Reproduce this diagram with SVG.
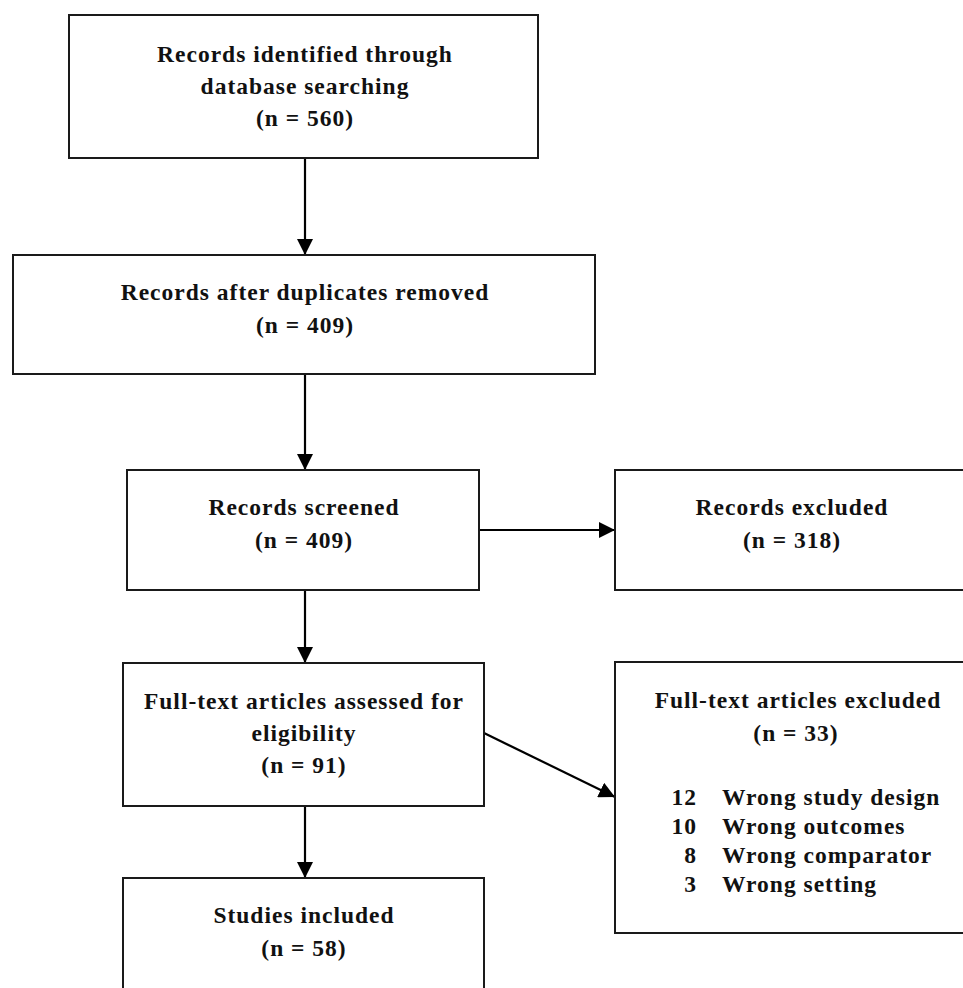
<svg xmlns="http://www.w3.org/2000/svg" width="963" height="988" viewBox="0 0 963 988">
<style>
.box{fill:#fff;stroke:#1a1a1a;stroke-width:2}
.t{font-family:"Liberation Serif","Times New Roman",serif;font-weight:bold;font-size:23.5px;letter-spacing:1px;fill:#111;text-anchor:middle}
.l{font-family:"Liberation Serif","Times New Roman",serif;font-weight:bold;font-size:23.5px;letter-spacing:1px;fill:#111}
.c{stroke:#000;stroke-width:2.2;fill:none}
</style>
<defs>
<marker id="ah" markerWidth="16" markerHeight="16" viewBox="0 0 16 16" refX="16" refY="8" orient="auto" markerUnits="userSpaceOnUse">
<path d="M0,0 L16,8 L0,16 Z" fill="#000"/>
</marker>
</defs>
<rect width="963" height="988" fill="#fff"/>
<g id="connectors">
<line class="c" x1="305" y1="158" x2="305" y2="255" marker-end="url(#ah)"/>
<line class="c" x1="305" y1="374" x2="305" y2="470" marker-end="url(#ah)"/>
<line class="c" x1="479" y1="530" x2="615" y2="530" marker-end="url(#ah)"/>
<line class="c" x1="305" y1="590" x2="305" y2="663" marker-end="url(#ah)"/>
<line class="c" x1="484" y1="733" x2="615" y2="797" marker-end="url(#ah)"/>
<line class="c" x1="305" y1="806" x2="305" y2="878" marker-end="url(#ah)"/>
</g>
<g id="n1">
<rect class="box" x="69" y="15" width="469" height="143"/>
<text class="t" x="305" y="62">Records identified through</text>
<text class="t" x="305" y="94">database searching</text>
<text class="t" x="305" y="126">(n = 560)</text>
</g>
<g id="n2">
<rect class="box" x="13" y="255" width="582" height="119"/>
<text class="t" x="305" y="300">Records after duplicates removed</text>
<text class="t" x="305" y="333">(n = 409)</text>
</g>
<g id="n3">
<rect class="box" x="127" y="470" width="352" height="120"/>
<text class="t" x="304" y="515">Records screened</text>
<text class="t" x="304" y="548">(n = 409)</text>
</g>
<g id="n4">
<rect class="box" x="615" y="470" width="360" height="120"/>
<text class="t" x="792" y="515">Records excluded</text>
<text class="t" x="792" y="548">(n = 318)</text>
</g>
<g id="n5">
<rect class="box" x="123" y="663" width="361" height="143"/>
<text class="t" x="304" y="709">Full-text articles assessed for</text>
<text class="t" x="304" y="741">eligibility</text>
<text class="t" x="304" y="773">(n = 91)</text>
</g>
<g id="n6">
<rect class="box" x="615" y="662" width="360" height="271"/>
<text class="t" x="798" y="708">Full-text articles excluded</text>
<text class="t" x="796" y="741">(n = 33)</text>
<text class="l" x="697" y="805" text-anchor="end">12</text>
<text class="l" x="722" y="805">Wrong study design</text>
<text class="l" x="697" y="834" text-anchor="end">10</text>
<text class="l" x="722" y="834">Wrong outcomes</text>
<text class="l" x="697" y="863" text-anchor="end">8</text>
<text class="l" x="722" y="863">Wrong comparator</text>
<text class="l" x="697" y="892" text-anchor="end">3</text>
<text class="l" x="722" y="892">Wrong setting</text>
</g>
<g id="n7">
<rect class="box" x="123" y="878" width="361" height="130"/>
<text class="t" x="304" y="923">Studies included</text>
<text class="t" x="304" y="956">(n = 58)</text>
</g>
</svg>
